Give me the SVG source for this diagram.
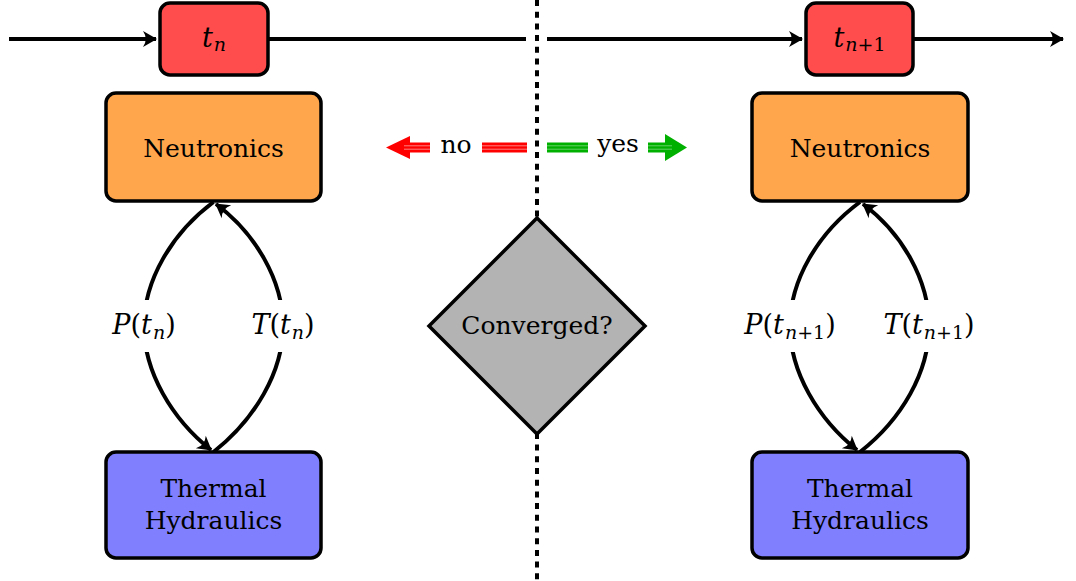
<svg xmlns="http://www.w3.org/2000/svg" width="1076" height="581" viewBox="0 0 1076 581">
<style>
.box{stroke:#000;stroke-width:3.5}
.t{font-family:"DejaVu Serif",serif;font-size:25px;fill:#000;text-anchor:middle}
.m{font-family:"DejaVu Serif",serif;font-size:27px;fill:#000;text-anchor:middle}
.i{font-style:italic}
.s{font-style:italic;font-size:19px}
.ln{fill:none;stroke:#000;stroke-width:4}
.dot{fill:none;stroke:#000;stroke-width:4;stroke-dasharray:6 5.7}
</style>
<defs>
<marker id="ah" markerUnits="userSpaceOnUse" markerWidth="20" markerHeight="20" viewBox="-14 -10 16 20" refX="0" refY="0" orient="auto">
<path d="M1,0 L-13,-8 Q-7.5,0 -13,8 Z" fill="#000"/>
</marker>
</defs>
<g id="divider">
<line class="dot" x1="537" y1="0" x2="537" y2="581"/>
</g>
<g id="connectors">
<line class="ln" x1="9" y1="39" x2="156" y2="39" marker-end="url(#ah)"/>
<line class="ln" x1="268" y1="39" x2="526" y2="39"/>
<line class="ln" x1="547" y1="39" x2="802" y2="39" marker-end="url(#ah)"/>
<line class="ln" x1="913" y1="39" x2="1063" y2="39" marker-end="url(#ah)"/>
<path class="ln" d="M213.5 202 C172 233,144 280,144 326 C144 372,172 419,211 450" marker-end="url(#ah)"/>
<path class="ln" d="M213.5 452 C255 419,283 372,283 326 C283 280,255 233,216 204" marker-end="url(#ah)"/>
<path class="ln" d="M860 202 C818 233,790 280,790 326 C790 372,818 419,857 450" marker-end="url(#ah)"/>
<path class="ln" d="M860 452 C902 419,929 372,929 326 C929 280,902 233,863 204" marker-end="url(#ah)"/>
</g>
<g id="tn">
<rect class="box" x="160" y="3" width="108" height="72" rx="10" fill="#FF4D4D"/>
<text class="m" x="214" y="47"><tspan class="i">t</tspan><tspan class="s" dx="1" dy="4">n</tspan></text>
</g>
<g id="tn1">
<rect class="box" x="806" y="3" width="107" height="72" rx="10" fill="#FF4D4D"/>
<text class="m" x="859.5" y="47"><tspan class="i">t</tspan><tspan class="s" dx="1" dy="4">n</tspan><tspan font-size="19px">+1</tspan></text>
</g>
<g id="neutronics-left">
<rect class="box" x="106" y="93" width="215" height="108" rx="10" fill="#FFA64D"/>
<text class="t" x="213.5" y="157">Neutronics</text>
</g>
<g id="th-left">
<rect class="box" x="106" y="452" width="215" height="106" rx="10" fill="#8080FF"/>
<text class="t" x="213.5" y="497">Thermal</text>
<text class="t" x="213.5" y="529">Hydraulics</text>
</g>
<g id="neutronics-right">
<rect class="box" x="752" y="93" width="216" height="108" rx="10" fill="#FFA64D"/>
<text class="t" x="860" y="157">Neutronics</text>
</g>
<g id="th-right">
<rect class="box" x="752" y="452" width="216" height="106" rx="10" fill="#8080FF"/>
<text class="t" x="860" y="497">Thermal</text>
<text class="t" x="860" y="529">Hydraulics</text>
</g>
<g id="converged">
<polygon class="box" points="537,218 645,326 537,434 429,326" fill="#B3B3B3"/>
<text class="t" x="537" y="334">Converged?</text>
</g>
<g id="labels">
<rect x="106" y="300" width="76" height="52" fill="#fff"/>
<text class="m" x="144" y="334"><tspan class="i">P</tspan>(<tspan class="i">t</tspan><tspan class="s" dx="1" dy="5">n</tspan><tspan dy="-5">)</tspan></text>
<rect x="245" y="300" width="76" height="52" fill="#fff"/>
<text class="m" x="283" y="334"><tspan class="i">T</tspan>(<tspan class="i">t</tspan><tspan class="s" dx="1" dy="5">n</tspan><tspan dy="-5">)</tspan></text>
<rect x="736" y="300" width="108" height="52" fill="#fff"/>
<text class="m" x="790" y="334"><tspan class="i">P</tspan>(<tspan class="i">t</tspan><tspan class="s" dx="1" dy="5">n</tspan><tspan font-size="19px">+1</tspan><tspan dy="-5">)</tspan></text>
<rect x="875" y="300" width="108" height="52" fill="#fff"/>
<text class="m" x="929" y="334"><tspan class="i">T</tspan>(<tspan class="i">t</tspan><tspan class="s" dx="1" dy="5">n</tspan><tspan font-size="19px">+1</tspan><tspan dy="-5">)</tspan></text>
</g>
<g id="no-arrow">
<polygon points="386,147.5 410,136 410,159" fill="#FF0000"/>
<rect x="409" y="142.5" width="21" height="10" fill="#FF0000"/>
<rect x="482" y="142.5" width="45" height="10" fill="#FF0000"/>
<g stroke="#FF8080" stroke-width="1">
<line x1="404" y1="145.8" x2="430" y2="145.8"/><line x1="404" y1="149.2" x2="430" y2="149.2"/>
<line x1="482" y1="145.8" x2="527" y2="145.8"/><line x1="482" y1="149.2" x2="527" y2="149.2"/>
</g>
<text class="t" x="456" y="153">no</text>
</g>
<g id="yes-arrow">
<rect x="547" y="142.5" width="41" height="10" fill="#00B000"/>
<rect x="648" y="142.5" width="18" height="10" fill="#00B000"/>
<polygon points="687,147.5 665,134 665,161" fill="#00B000"/>
<g stroke="#66D066" stroke-width="1">
<line x1="547" y1="145.8" x2="588" y2="145.8"/><line x1="547" y1="149.2" x2="588" y2="149.2"/>
<line x1="648" y1="145.8" x2="672" y2="145.8"/><line x1="648" y1="149.2" x2="672" y2="149.2"/>
</g>
<text class="t" x="618" y="152">yes</text>
</g>
</svg>
